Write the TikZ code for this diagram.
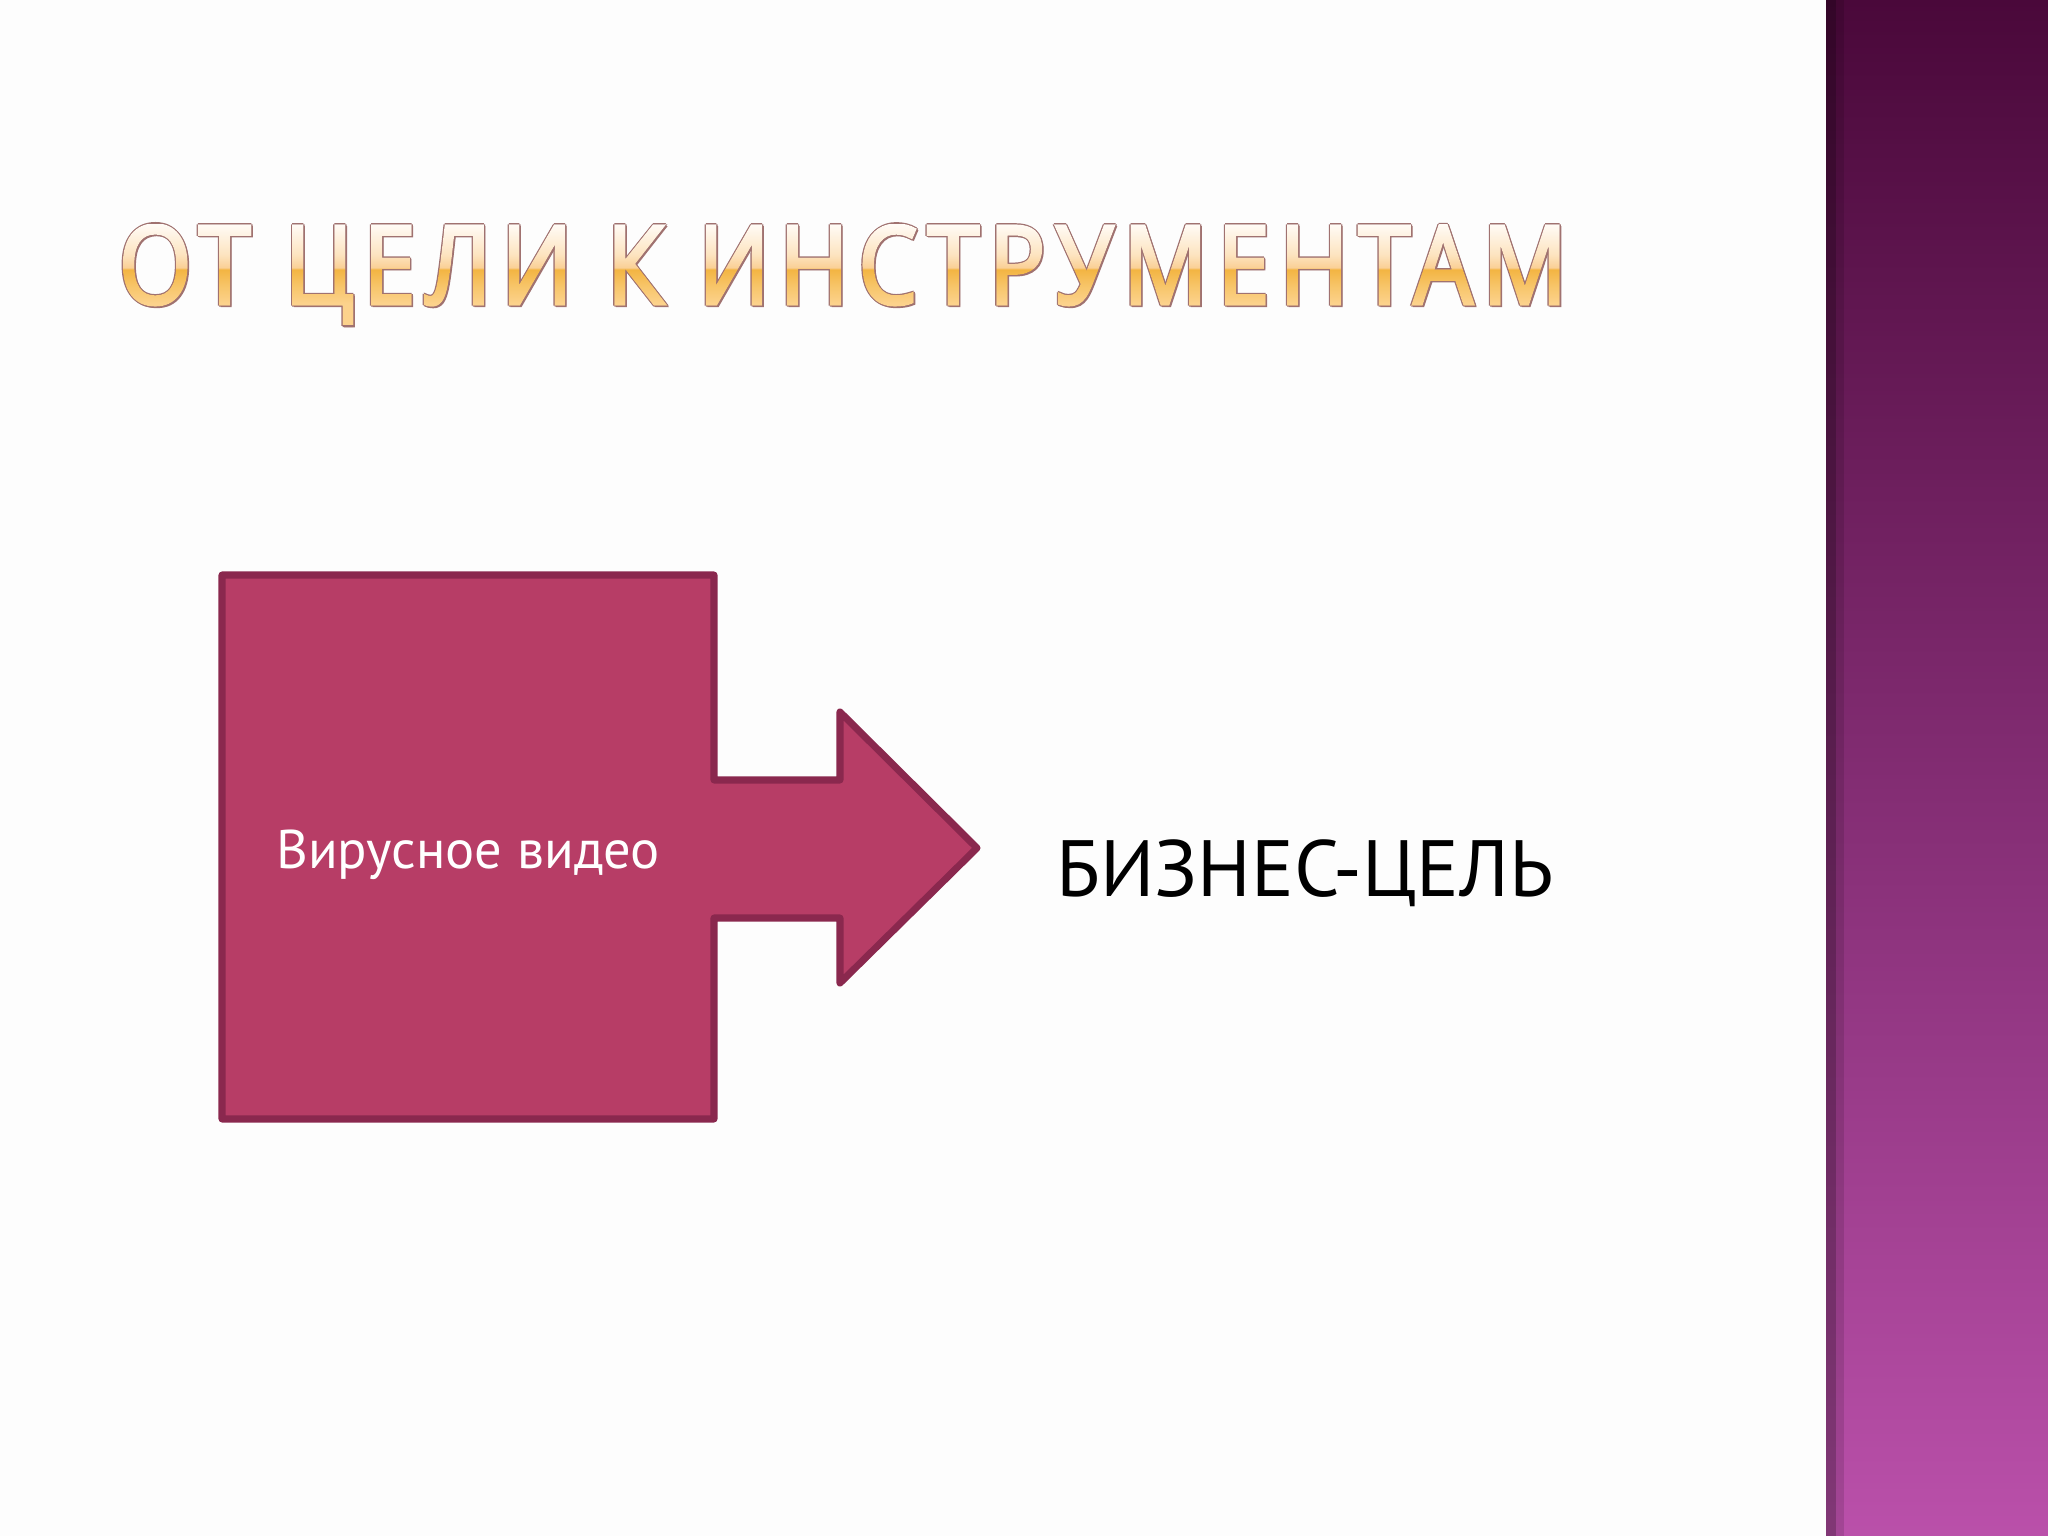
\documentclass[tikz,border=0pt]{standalone}
\usepackage{fontspec}
\setmainfont{PT Sans}
\newfontfamily\titlefont[FakeStretch=0.86, LetterSpace=9, FakeBold=3]{Open Sans}
\usetikzlibrary{fadings, positioning}

\definecolor{slidebg}{RGB}{253,253,253}
\definecolor{bandtop}{RGB}{74,8,58}
\definecolor{bandbot}{RGB}{186,80,170}
\definecolor{arrowfill}{RGB}{183,61,102}
\definecolor{arrowedge}{RGB}{138,40,78}
\definecolor{titleedge}{RGB}{160,114,112}
\definecolor{ttop}{RGB}{255,251,246}
\definecolor{tpeach}{RGB}{253,228,192}
\definecolor{tpeachb}{RGB}{250,208,150}
\definecolor{tgold}{RGB}{243,180,66}
\definecolor{tmid}{RGB}{247,196,102}
\definecolor{tbot}{RGB}{252,210,140}

\newcommand{\slidetitle}{\titlefont\fontsize{31}{31}\selectfont ОТ ЦЕЛИ К ИНСТРУМЕНТАМ}

\pgfdeclareverticalshading{titleshade}{100bp}{color(0bp)=(tbot); color(25bp)=(tbot);
  color(35.5bp)=(tbot); color(45bp)=(tmid); color(52.5bp)=(tgold); color(53.5bp)=(tpeachb);
  color(60bp)=(tpeach); color(75bp)=(ttop); color(100bp)=(ttop)}

\begin{tikzfadingfrompicture}[name=titlefade]
\node[inner sep=0pt, text=transparent!0] {\slidetitle};
\end{tikzfadingfrompicture}

\tikzset{
  goalshape/.style={draw=arrowedge, fill=arrowfill, line width=2pt, line join=round},
  titletext/.style={inner sep=0pt, text=titleedge}
}

\begin{document}
\begin{tikzpicture}[>=stealth]
\useasboundingbox (0,0) rectangle (20.48,-15.36);
\fill[slidebg] (0,0) rectangle (20.48,-15.36);
\shade[top color=bandtop, bottom color=bandbot] (18.26,0) rectangle (20.48,-15.36);
\fill[black, opacity=0.3] (18.26,0) rectangle (18.36,-15.36);
\fill[black, opacity=0.12] (18.36,0) rectangle (18.44,-15.36);

% title
\coordinate (T) at (8.43,-2.745);
\foreach \dx/\dy in {-0.35/0, 0.35/0, 0/0.35, 0/-0.35, 0.45/-0.45}
  \node[titletext, xshift=\dx pt, yshift=\dy pt] at (T) {\slidetitle};
\begin{scope}[transform canvas={shift={(T)}}]
  \shade[path fading=titlefade, fit fading=false, shading=titleshade] (-8,-0.5) rectangle (8,0.5);
\end{scope}

\draw[goalshape] (2.22,-5.75) -- (7.14,-5.75) -- (7.14,-7.80) -- (8.40,-7.80) -- (8.40,-7.12)
  -- (9.77,-8.48) -- (8.40,-9.83) -- (8.40,-9.18) -- (7.14,-9.18) -- (7.14,-11.19)
  -- (2.22,-11.19) -- cycle;
\node[anchor=base, text=white, font=\fontsize{15.5}{15.5}\selectfont] (tool) at (4.68,-8.685) {Вирусное видео};
\node[anchor=base, font=\fontsize{22.7}{22.7}\selectfont] (goal) at (13.05,-8.96) {БИЗНЕС-ЦЕЛЬ};
\end{tikzpicture}
\end{document}
